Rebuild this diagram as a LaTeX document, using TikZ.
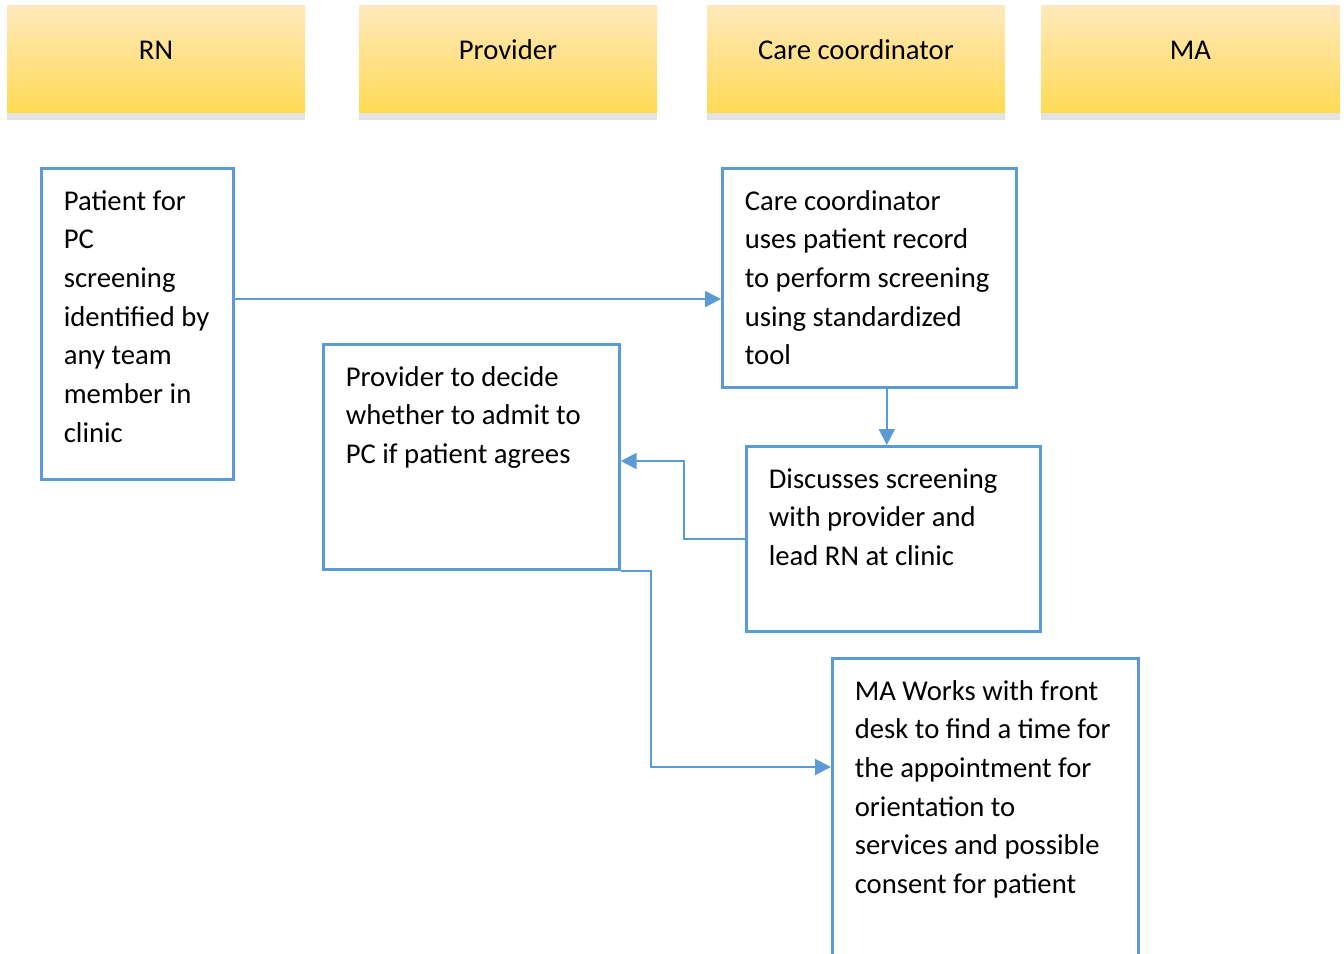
\documentclass[tikz,border=0pt]{standalone}
\usepackage{fontspec}
\setmainfont{Carlito}
\usepackage{tikz}
\usetikzlibrary{arrows.meta, positioning, calc}

\definecolor{flowblue}{RGB}{91,155,213}
\definecolor{laneTop}{RGB}{255,233,188}
\definecolor{laneBottom}{RGB}{255,218,84}
\definecolor{laneShadow}{RGB}{227,227,227}

\newlength\pxu
\setlength\pxu{0.75pt}
\newcommand\stepbody[3]{\parbox[t][#2\pxu][t]{#1\pxu}{\raggedright\strut #3}}

\tikzset{
    lanehead/.style={top color=laneTop, bottom color=laneBottom, minimum width=223.5pt, minimum height=81pt, inner sep=0pt, text height=10pt, text depth=10pt},
    stepbox/.style={draw=flowblue, line width=2.25pt, anchor=north west, inner xsep=16.75pt, inner ysep=10.9pt},
    flow/.style={draw=flowblue, line width=1.5pt, -{Triangle[length=12pt, width=12pt]}}
}

\begin{document}
\begin{tikzpicture}[x=0.75pt, y=-0.75pt, font=\fontsize{21.5pt}{29pt}\selectfont]
    \useasboundingbox (0,0) rectangle (1344,953);
    \clip (0,0) rectangle (1344,953);

    % swim lane headers
    \node[lanehead] (rn) at (156,59) {RN};
    \node[lanehead] (provider) at (508,59) {Provider};
    \node[lanehead] (carecoord) at (856,59) {Care coordinator};
    \node[lanehead] (ma) at (1190.5,59) {MA};
    \foreach \h in {rn, provider, carecoord, ma}
        \fill[laneShadow] (\h.south west) rectangle ([yshift=-4.9pt]\h.south east);

    % steps
    \node[stepbox] (patient) at (40,167) {\stepbody{147}{282}{Patient for\\ PC\\ screening\\ identified by\\ any team\\ member in\\ clinic}};
    \node[stepbox] (coord) at (721,167) {\stepbody{249}{190}{Care coordinator\\ uses patient record\\ to perform screening\\ using standardized\\ tool}};
    \node[stepbox] (decide) at (322,343) {\stepbody{251}{196}{Provider to decide\\ whether to admit to\\ PC if patient agrees}};
    \node[stepbox] (discuss) at (745,445) {\stepbody{249}{156}{Discusses screening\\ with provider and\\ lead RN at clinic}};
    \node[stepbox] (mawork) at (831,657) {\stepbody{261}{311}{MA Works with front\\ desk to find a time for\\ the appointment for\\ orientation to\\ services and possible\\ consent for patient}};

    \draw[flow] ([yshift=18.75pt]patient.east) coordinate (p1) -- (p1 -| coord.west);
    \draw[flow] ([xshift=13.1pt]coord.south) coordinate (p2) -- (p2 |- discuss.north);
    \draw[flow] (discuss.west) -- ++(-61,0) |- ([yshift=-3pt]decide.east);
    \draw[flow] (decide.south east) -- ++(30,0) |- ([yshift=-82.5pt]mawork.north west);
\end{tikzpicture}
\end{document}
